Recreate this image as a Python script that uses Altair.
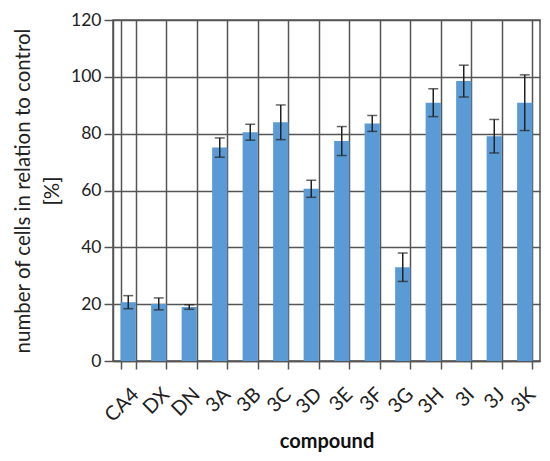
import altair as alt
import pandas as pd

compounds = ["CA4", "DX", "DN", "3A", "3B", "3C", "3D", "3E", "3F", "3G", "3H", "3I", "3J", "3K"]
values = [20.7, 20.1, 19.0, 75.1, 80.5, 84.0, 60.6, 77.4, 83.6, 33.0, 90.9, 98.5, 79.1, 90.9]
errors = [2.3, 2.1, 0.8, 3.4, 2.8, 6.1, 3.0, 5.1, 2.8, 5.0, 4.9, 5.6, 5.9, 9.8]

df = pd.DataFrame({"compound": compounds, "value": values, "err": errors})
df["lo"] = df["value"] - df["err"]
df["hi"] = df["value"] + df["err"]

FONT = "Lato"
GRID = "#555555"
TXT = "#222222"

x = alt.X(
    "compound:N",
    sort=compounds,
    scale=alt.Scale(paddingInner=0.5, paddingOuter=0.25),
    axis=alt.Axis(
        title="compound",
        titleFontWeight="bold",
        titleFontSize=20,
        titleFont=FONT,
        titleColor="#111111",
        titlePadding=6,
        labelAngle=-45,
        labelFont=FONT,
        labelFontSize=20,
        labelColor=TXT,
        labelPadding=15,
        tickBand="extent",
        grid=True,
        gridColor=GRID,
        gridWidth=1.5,
        domainColor=GRID,
        domainWidth=1.5,
        tickColor=GRID,
        tickWidth=1.5,
        tickSize=8,
    ),
)

y_axis = alt.Axis(
    title=["number of cells in relation to control", "[%]"],
    titleFont=FONT,
    titleFontSize=20.5,
    titleFontWeight="normal",
    titleColor=TXT,
    titleLineHeight=29,
    titlePadding=8,
    values=[0, 20, 40, 60, 80, 100, 120],
    labelFont=FONT,
    labelFontSize=17.5,
    labelColor=TXT,
    labelPadding=3,
    grid=True,
    gridColor=GRID,
    gridWidth=1.5,
    domainColor=GRID,
    domainWidth=1.5,
    tickColor=GRID,
    tickWidth=1.5,
    tickSize=9,
)

base = alt.Chart(df)

bars = base.mark_bar(color="#5b9bd5").encode(
    x=x,
    y=alt.Y("value:Q", scale=alt.Scale(domain=[0, 120], nice=False), axis=y_axis),
)

rules = base.mark_rule(color="#222222", strokeWidth=1.5).encode(
    x=alt.X("compound:N", sort=compounds),
    y="lo:Q",
    y2="hi:Q",
)

caps_hi = base.mark_tick(color="#222222", thickness=1.5, size=10, orient="horizontal").encode(
    x=alt.X("compound:N", sort=compounds),
    y="hi:Q",
)
caps_lo = base.mark_tick(color="#222222", thickness=1.5, size=10, orient="horizontal").encode(
    x=alt.X("compound:N", sort=compounds),
    y="lo:Q",
)

chart = (
    alt.layer(bars, rules, caps_hi, caps_lo)
    .properties(
        width=427,
        height=341,
        autosize=alt.AutoSizeParams(type="none"),
        padding={"left": 105, "top": 12, "right": 2, "bottom": 92},
        background="white",
    )
    .configure_view(stroke=GRID, strokeWidth=1.5)
)

chart.save("out.html", embed_options={"renderer": "svg", "actions": False})
